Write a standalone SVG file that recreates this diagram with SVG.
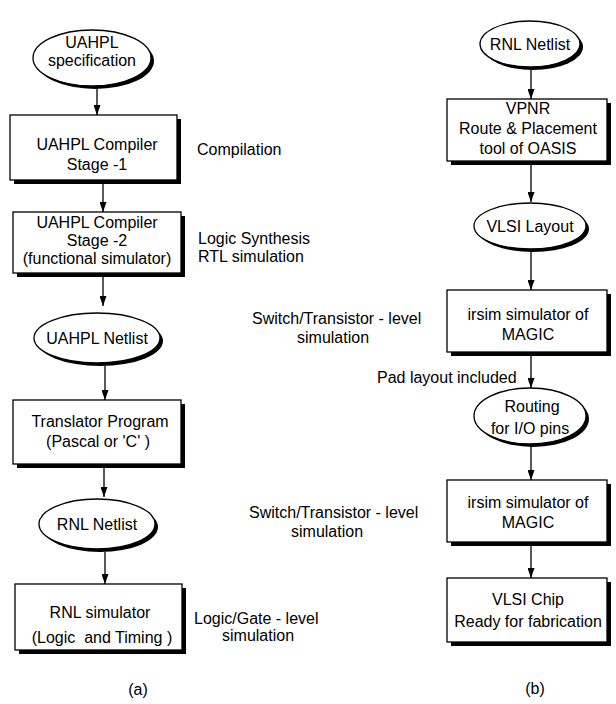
<svg xmlns="http://www.w3.org/2000/svg" width="616" height="704" viewBox="0 0 616 704">
<style>
text{font-family:"Liberation Sans",Arial,Helvetica,sans-serif;font-size:16px;fill:#000}
.c{text-anchor:middle}
.shape{fill:#fff;stroke:#000;stroke-width:1.3}
.sh{fill:#000}
.ln{stroke:#000;stroke-width:1.3;fill:none;marker-end:url(#ah)}
</style>
<defs>
<marker id="ah" viewBox="0 0 10 7" refX="10" refY="3.5" markerWidth="10" markerHeight="7" markerUnits="userSpaceOnUse" orient="auto" preserveAspectRatio="none"><path d="M0,0L10,3.5L0,7z" fill="#000"/></marker>
</defs>
<rect width="616" height="704" fill="#fff"/>

<g id="connectors">
<line class="ln" x1="97" y1="89" x2="97" y2="115"/>
<line class="ln" x1="103" y1="184" x2="103" y2="212"/>
<line class="ln" x1="103" y1="277" x2="103" y2="306"/>
<line class="ln" x1="105" y1="366" x2="105" y2="400"/>
<line class="ln" x1="104" y1="468" x2="104" y2="497"/>
<line class="ln" x1="105" y1="552" x2="105" y2="584"/>
<line class="ln" x1="531" y1="70" x2="531" y2="99"/>
<line class="ln" x1="531" y1="165" x2="531" y2="202"/>
<line class="ln" x1="531" y1="251" x2="531" y2="290"/>
<line class="ln" x1="531" y1="356" x2="531" y2="388"/>
<line class="ln" x1="531" y1="446" x2="531" y2="480"/>
<line class="ln" x1="531" y1="546" x2="531" y2="578"/>
</g>

<g id="uahpl-spec">
<ellipse class="sh" cx="95" cy="61" rx="59" ry="28"/>
<ellipse class="shape" cx="92" cy="58" rx="59" ry="28"/>
<text class="c" x="92" y="48">UAHPL</text>
<text class="c" x="92" y="66">specification</text>
</g>

<g id="compiler-1">
<rect class="sh" x="14" y="119" width="167" height="65"/>
<rect class="shape" x="10" y="115" width="167" height="65"/>
<text class="c" x="97" y="150">UAHPL Compiler</text>
<text class="c" x="97" y="170">Stage -1</text>
</g>
<text x="197" y="155">Compilation</text>

<g id="compiler-2">
<rect class="sh" x="17" y="216" width="168" height="61"/>
<rect class="shape" x="13" y="212" width="168" height="61"/>
<text class="c" x="97" y="228">UAHPL Compiler</text>
<text class="c" x="97" y="246">Stage -2</text>
<text class="c" x="97" y="264">(functional simulator)</text>
</g>
<text x="198" y="244">Logic Synthesis</text>
<text x="198" y="262">RTL simulation</text>

<g id="uahpl-netlist">
<ellipse class="sh" cx="100" cy="341" rx="63" ry="25"/>
<ellipse class="shape" cx="97" cy="338" rx="63" ry="25"/>
<text class="c" x="97" y="344">UAHPL Netlist</text>
</g>

<g id="translator">
<rect class="sh" x="17" y="404" width="168" height="64"/>
<rect class="shape" x="13" y="400" width="168" height="64"/>
<text class="c" x="100" y="427">Translator Program</text>
<text class="c" x="98" y="447">(Pascal or 'C' )</text>
</g>

<g id="rnl-netlist-a">
<ellipse class="sh" cx="100" cy="527" rx="58" ry="25"/>
<ellipse class="shape" cx="97" cy="524" rx="58" ry="25"/>
<text class="c" x="97" y="530">RNL Netlist</text>
</g>

<g id="rnl-simulator">
<rect class="sh" x="19" y="588" width="167" height="66"/>
<rect class="shape" x="15" y="584" width="167" height="66"/>
<text class="c" x="100" y="618">RNL simulator</text>
<text class="c" x="102" y="643">(Logic&#160; and Timing )</text>
</g>
<text x="194" y="624">Logic/Gate - level</text>
<text x="222" y="641">simulation</text>
<text class="c" x="138" y="695">(a)</text>

<g id="rnl-netlist-b">
<ellipse class="sh" cx="533" cy="47" rx="50" ry="23"/>
<ellipse class="shape" cx="530" cy="44" rx="50" ry="23"/>
<text class="c" x="530" y="50">RNL Netlist</text>
</g>

<g id="vpnr">
<rect class="sh" x="451" y="103" width="160" height="62"/>
<rect class="shape" x="447" y="99" width="160" height="62"/>
<text class="c" x="528" y="114">VPNR</text>
<text class="c" x="528" y="134">Route &amp; Placement</text>
<text class="c" x="528" y="154">tool of OASIS</text>
</g>

<g id="vlsi-layout">
<ellipse class="sh" cx="533" cy="229" rx="56" ry="23"/>
<ellipse class="shape" cx="530" cy="226" rx="56" ry="23"/>
<text class="c" x="530" y="232">VLSI Layout</text>
</g>

<g id="irsim-1">
<rect class="sh" x="451" y="294" width="160" height="62"/>
<rect class="shape" x="447" y="290" width="160" height="62"/>
<text class="c" x="528" y="320">irsim simulator of</text>
<text class="c" x="528" y="340">MAGIC</text>
</g>
<text x="252" y="324">Switch/Transistor - level</text>
<text x="297" y="343">simulation</text>
<text x="377" y="383">Pad layout included</text>

<g id="routing">
<ellipse class="sh" cx="533" cy="419" rx="56" ry="28"/>
<ellipse class="shape" cx="530" cy="416" rx="56" ry="28"/>
<text class="c" x="532" y="412">Routing</text>
<text class="c" x="530" y="434">for I/O pins</text>
</g>

<g id="irsim-2">
<rect class="sh" x="451" y="484" width="160" height="62"/>
<rect class="shape" x="447" y="480" width="160" height="62"/>
<text class="c" x="528" y="508">irsim simulator of</text>
<text class="c" x="528" y="528">MAGIC</text>
</g>
<text x="249" y="518">Switch/Transistor - level</text>
<text x="291" y="537">simulation</text>

<g id="vlsi-chip">
<rect class="sh" x="451" y="582" width="160" height="64"/>
<rect class="shape" x="447" y="578" width="160" height="64"/>
<text class="c" x="528" y="605">VLSI Chip</text>
<text class="c" x="528" y="627">Ready for fabrication</text>
</g>
<text class="c" x="535" y="694">(b)</text>
</svg>
